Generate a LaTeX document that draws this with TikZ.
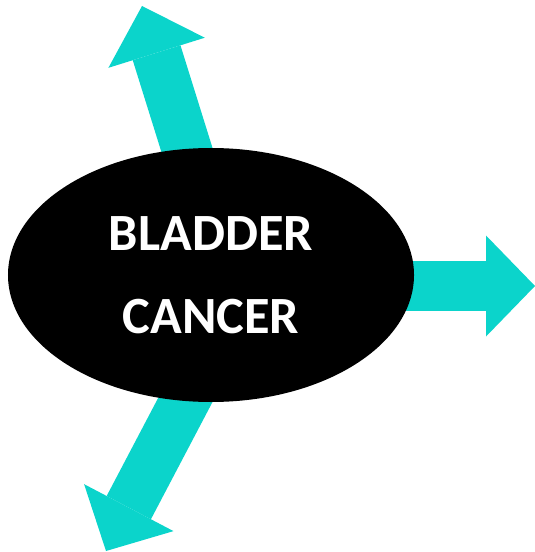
\documentclass[tikz,border=0pt]{standalone}
\usepackage{fontspec}
\setmainfont{Carlito}
\usetikzlibrary{arrows.meta,shapes.geometric,backgrounds}
\definecolor{arrowCyan}{HTML}{0BD4CB}

\begin{document}
\begin{tikzpicture}[
  x=1bp, y=-1bp,
  %% Node styles
  tumour/.style={
    ellipse, fill=black, draw=none, inner sep=0pt,
    minimum width=406bp, minimum height=254bp,
    text=white, align=center,
    font=\fontsize{52.5}{83}\selectfont\bfseries
  },
  %% Arrow styles
  fatarrow/.style={
    -{Triangle[length=49bp, width=101bp, line width=0pt]},
    line width=50bp, color=arrowCyan
  },
]
\useasboundingbox (0,0) rectangle (535,552);

%% ── Central ellipse ────────────────────────────────────────────────────────
\node[tumour] (bc) at (211,275) {BLADDER\\CANCER};

%% ── Arrow ends ─────────────────────────────────────────────────────────────
\coordinate (upfoot)    at (226,275);
\coordinate (uptip)     at (142,6);
\coordinate (rightfoot) at (300,286);
\coordinate (righttip)  at (535,286);
\coordinate (downfoot)  at (251,275);
\coordinate (downtip)   at (106,551);

%% ── Arrows (behind the ellipse) ────────────────────────────────────────────
\begin{scope}[on background layer]
  \draw[fatarrow] (upfoot)    -- (uptip);
  \draw[fatarrow] (rightfoot) -- (righttip);
  \draw[fatarrow] (downfoot)  -- (downtip);
\end{scope}

\end{tikzpicture}
\end{document}
